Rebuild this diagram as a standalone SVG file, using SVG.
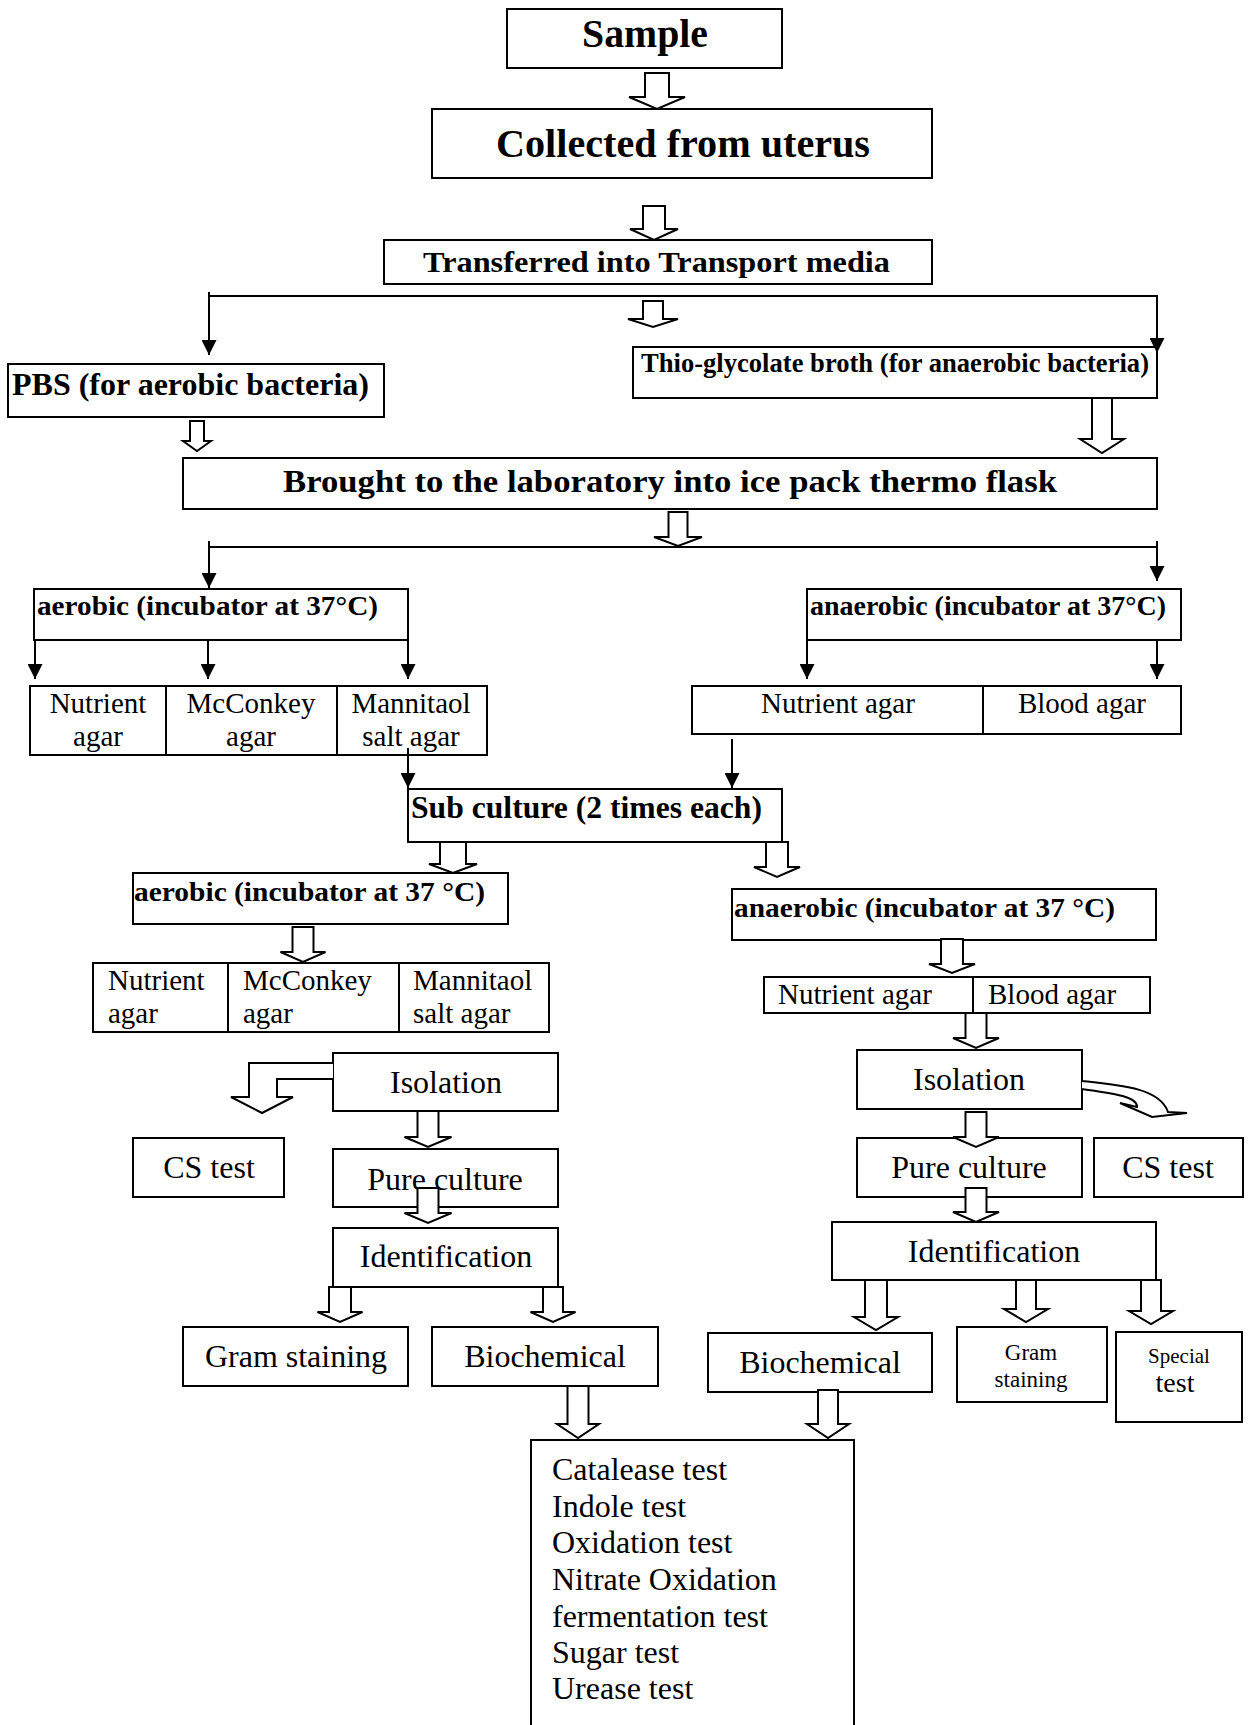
<svg xmlns="http://www.w3.org/2000/svg" width="1251" height="1725" viewBox="0 0 1251 1725">
<style>
.box{fill:#fff;stroke:#000;stroke-width:2}
.div{stroke:#000;stroke-width:2}
.b{font-family:"Liberation Serif","Times New Roman",serif;font-weight:bold;fill:#000}
.r{font-family:"Liberation Serif","Times New Roman",serif;fill:#000}
.c{text-anchor:middle}
.ha{fill:#fff;stroke:#000;stroke-width:2;stroke-linejoin:miter}
.ln{fill:none;stroke:#000;stroke-width:2}
</style>
<defs>
<marker id="ah" markerUnits="userSpaceOnUse" viewBox="0 0 16 16" refX="16" refY="8" markerWidth="16" markerHeight="15" orient="auto">
<path d="M0,0 L16,8 L0,16 z" fill="#000"/>
</marker>
</defs>
<rect width="1251" height="1725" fill="#fff"/>

<g id="sample"><rect class="box" x="507" y="9" width="275" height="59"/><text class="b" x="582" y="47" font-size="40" textLength="126" lengthAdjust="spacingAndGlyphs">Sample</text></g>
<g id="collected"><rect class="box" x="432" y="109" width="500" height="69"/><text class="b" x="496" y="157" font-size="40" textLength="374" lengthAdjust="spacingAndGlyphs">Collected from uterus</text></g>
<g id="transferred"><rect class="box" x="384" y="240" width="548" height="44"/><text class="b" x="423" y="272" font-size="30" textLength="467" lengthAdjust="spacingAndGlyphs">Transferred into Transport media</text></g>
<g id="pbs"><rect class="box" x="8" y="364" width="376" height="53"/><text class="b" x="12" y="395" font-size="31" textLength="357" lengthAdjust="spacingAndGlyphs">PBS (for aerobic bacteria)</text></g>
<g id="thio"><rect class="box" x="633" y="347" width="524" height="51"/><text class="b" x="641" y="372" font-size="26.5" textLength="508" lengthAdjust="spacingAndGlyphs">Thio-glycolate broth (for anaerobic bacteria)</text></g>
<g id="brought"><rect class="box" x="183" y="458" width="974" height="51"/><text class="b" x="283" y="492" font-size="32" textLength="774" lengthAdjust="spacingAndGlyphs">Brought to the laboratory into ice pack thermo flask</text></g>
<g id="aerobic1"><rect class="box" x="34" y="589" width="374" height="51"/><text class="b" x="37" y="615" font-size="28" textLength="341" lengthAdjust="spacingAndGlyphs">aerobic (incubator at 37°C)</text></g>
<g id="anaerobic1"><rect class="box" x="807" y="589" width="374" height="51"/><text class="b" x="810" y="615" font-size="28" textLength="356" lengthAdjust="spacingAndGlyphs">anaerobic (incubator at 37°C)</text></g>
<g id="media-aerobic1"><rect class="box" x="30" y="686" width="457" height="69"/><line class="div" x1="166" y1="686" x2="166" y2="755"/><line class="div" x1="337" y1="686" x2="337" y2="755"/>
<text class="r c" x="98" y="713" font-size="29">Nutrient</text><text class="r c" x="98" y="746" font-size="29">agar</text>
<text class="r c" x="251" y="713" font-size="29">McConkey</text><text class="r c" x="251" y="746" font-size="29">agar</text>
<text class="r c" x="411" y="713" font-size="29">Mannitaol</text><text class="r c" x="411" y="746" font-size="29">salt agar</text></g>
<g id="media-anaerobic1"><rect class="box" x="692" y="686" width="489" height="48"/><line class="div" x1="983" y1="686" x2="983" y2="734"/>
<text class="r c" x="838" y="713" font-size="29">Nutrient agar</text><text class="r c" x="1082" y="713" font-size="29">Blood agar</text></g>
<g id="subculture"><rect class="box" x="408" y="789" width="374" height="53"/><text class="b" x="411" y="818" font-size="32" textLength="351" lengthAdjust="spacingAndGlyphs">Sub culture (2 times each)</text></g>
<g id="aerobic2"><rect class="box" x="133" y="873" width="375" height="51"/><text class="b" x="134" y="901" font-size="28" textLength="351" lengthAdjust="spacingAndGlyphs">aerobic (incubator at 37 °C)</text></g>
<g id="anaerobic2"><rect class="box" x="732" y="889" width="424" height="51"/><text class="b" x="734" y="917" font-size="28" textLength="381" lengthAdjust="spacingAndGlyphs">anaerobic (incubator at 37 °C)</text></g>
<g id="media-aerobic2"><rect class="box" x="93" y="963" width="456" height="69"/><line class="div" x1="228" y1="963" x2="228" y2="1032"/><line class="div" x1="399" y1="963" x2="399" y2="1032"/>
<text class="r" x="108" y="990" font-size="29">Nutrient</text><text class="r" x="108" y="1023" font-size="29">agar</text>
<text class="r" x="243" y="990" font-size="29">McConkey</text><text class="r" x="243" y="1023" font-size="29">agar</text>
<text class="r" x="413" y="990" font-size="29">Mannitaol</text><text class="r" x="413" y="1023" font-size="29">salt agar</text></g>
<g id="media-anaerobic2"><rect class="box" x="764" y="977" width="386" height="36"/><line class="div" x1="973" y1="977" x2="973" y2="1013"/>
<text class="r" x="778" y="1004" font-size="29">Nutrient agar</text><text class="r" x="988" y="1004" font-size="29">Blood agar</text></g>
<g id="isolation-l"><rect class="box" x="333" y="1053" width="225" height="58"/><text class="r c" x="446" y="1093" font-size="32">Isolation</text></g>
<g id="isolation-r"><rect class="box" x="857" y="1050" width="225" height="59"/><text class="r c" x="969" y="1090" font-size="32">Isolation</text></g>
<g id="cstest-l"><rect class="box" x="133" y="1138" width="151" height="59"/><text class="r c" x="209" y="1178" font-size="32">CS test</text></g>
<g id="pure-l"><rect class="box" x="333" y="1149" width="225" height="58"/><text class="r c" x="445" y="1190" font-size="32">Pure culture</text></g>
<g id="pure-r"><rect class="box" x="857" y="1138" width="225" height="59"/><text class="r c" x="969" y="1178" font-size="32">Pure culture</text></g>
<g id="cstest-r"><rect class="box" x="1094" y="1138" width="149" height="59"/><text class="r c" x="1168" y="1178" font-size="32">CS test</text></g>
<g id="ident-l"><rect class="box" x="333" y="1228" width="225" height="59"/><text class="r c" x="446" y="1267" font-size="32">Identification</text></g>
<g id="ident-r"><rect class="box" x="832" y="1222" width="324" height="58"/><text class="r c" x="994" y="1262" font-size="32">Identification</text></g>
<g id="gram-l"><rect class="box" x="183" y="1327" width="225" height="59"/><text class="r c" x="296" y="1367" font-size="32">Gram staining</text></g>
<g id="bio-l"><rect class="box" x="432" y="1327" width="226" height="59"/><text class="r c" x="545" y="1367" font-size="32">Biochemical</text></g>
<g id="bio-r"><rect class="box" x="708" y="1333" width="224" height="59"/><text class="r c" x="820" y="1373" font-size="32">Biochemical</text></g>
<g id="gram-r"><rect class="box" x="957" y="1327" width="150" height="75"/><text class="r c" x="1031" y="1360" font-size="23">Gram</text><text class="r c" x="1031" y="1387" font-size="23">staining</text></g>
<g id="special"><rect class="box" x="1116" y="1332" width="126" height="90"/><text class="r c" x="1179" y="1363" font-size="21">Special</text><text class="r c" x="1175" y="1392" font-size="28">test</text></g>
<g id="tests"><path class="box" d="M531,1726 L531,1440 L854,1440 L854,1726"/>
<text class="r" x="552" y="1480" font-size="32">Catalease test</text>
<text class="r" x="552" y="1517" font-size="32">Indole test</text>
<text class="r" x="552" y="1553" font-size="32">Oxidation test</text>
<text class="r" x="552" y="1590" font-size="32">Nitrate Oxidation</text>
<text class="r" x="552" y="1627" font-size="32">fermentation test</text>
<text class="r" x="552" y="1663" font-size="32">Sugar test</text>
<text class="r" x="552" y="1699" font-size="32">Urease test</text></g>

<g id="connectors">
<polygon class="ha" points="645,73 669,73 669,97 685,97 657,109 629,97 645,97"/>
<polygon class="ha" points="643,206 665,206 665,229 678,229 654,240 630,229 643,229"/>
<polygon class="ha" points="643,301 663,301 663,319 678,319 653,327 628,319 643,319"/>
<polygon class="ha" points="190,421 204,421 204,441 211,441 197,451 183,441 190,441"/>
<polygon class="ha" points="1092,398 1112,398 1112,439 1124,439 1102,453 1080,439 1092,439"/>
<polygon class="ha" points="668.5,512 687.5,512 687.5,537 702,537 678,546 654,537 668.5,537"/>
<polygon class="ha" points="440,842 466,842 466,864 477,864 453,873 429,864 440,864"/>
<polygon class="ha" points="766,842 788,842 788,867 800,867 777,877 754,867 766,867"/>
<polygon class="ha" points="292.5,927 313.5,927 313.5,952 325.5,952 303,962 280.5,952 292.5,952"/>
<polygon class="ha" points="941,939 963,939 963,964 975,964 952,973 929,964 941,964"/>
<polygon class="ha" points="965.5,1013 986.5,1013 986.5,1038 999,1038 976,1048 953,1038 965.5,1038"/>
<polygon class="ha" points="417.5,1111 438.5,1111 438.5,1137 451.5,1137 428,1147 404.5,1137 417.5,1137"/>
<polygon class="ha" points="417.5,1188 438.5,1188 438.5,1213 451.5,1213 428,1223 404.5,1213 417.5,1213"/>
<polygon class="ha" points="965.5,1112 986.5,1112 986.5,1137 999,1137 976,1147 953,1137 965.5,1137"/>
<polygon class="ha" points="965.5,1188 986.5,1188 986.5,1212 999,1212 976,1222 953,1212 965.5,1212"/>
<polygon class="ha" points="329,1287 351,1287 351,1312 362.5,1312 340,1322 317.5,1312 329,1312"/>
<polygon class="ha" points="543,1287 563,1287 563,1312 575.5,1312 553,1322 530.5,1312 543,1312"/>
<polygon class="ha" points="865,1280 887,1280 887,1317 898,1317 876,1330 854,1317 865,1317"/>
<polygon class="ha" points="1016,1280 1036,1280 1036,1309 1048,1309 1026,1322 1004,1309 1016,1309"/>
<polygon class="ha" points="1141,1280 1161,1280 1161,1311 1173,1311 1151,1324 1129,1311 1141,1311"/>
<polygon class="ha" points="567.5,1386 588.5,1386 588.5,1424 599,1424 578,1438 557,1424 567.5,1424"/>
<polygon class="ha" points="818,1390 838,1390 838,1424 849,1424 828,1438 807,1424 818,1424"/>
<path class="ha" d="M333,1063 L249,1063 L249,1097 L231,1097 L262,1113 L293,1097 L277,1097 L277,1079 L333,1079"/>
<path class="ha" d="M1082,1081 C1120,1085 1160,1088 1168,1112 L1187,1113 L1152,1117 L1120,1103 L1137,1107 C1138,1096 1110,1093 1082,1089"/>

<line class="ln" x1="209" y1="296" x2="1158" y2="296"/>
<line class="ln" x1="209" y1="292" x2="209" y2="355" marker-end="url(#ah)"/>
<line class="ln" x1="1157" y1="296" x2="1157" y2="353" marker-end="url(#ah)"/>
<line class="ln" x1="209" y1="547" x2="1158" y2="547"/>
<line class="ln" x1="209" y1="541" x2="209" y2="588" marker-end="url(#ah)"/>
<line class="ln" x1="1157" y1="541" x2="1157" y2="581" marker-end="url(#ah)"/>
<line class="ln" x1="35" y1="640" x2="35" y2="679" marker-end="url(#ah)"/>
<line class="ln" x1="208" y1="640" x2="208" y2="679" marker-end="url(#ah)"/>
<line class="ln" x1="408" y1="640" x2="408" y2="679" marker-end="url(#ah)"/>
<line class="ln" x1="807" y1="640" x2="807" y2="679" marker-end="url(#ah)"/>
<line class="ln" x1="1157" y1="640" x2="1157" y2="679" marker-end="url(#ah)"/>
<line class="ln" x1="408" y1="748" x2="408" y2="788" marker-end="url(#ah)"/>
<line class="ln" x1="732" y1="739" x2="732" y2="788" marker-end="url(#ah)"/>
</g>
</svg>
